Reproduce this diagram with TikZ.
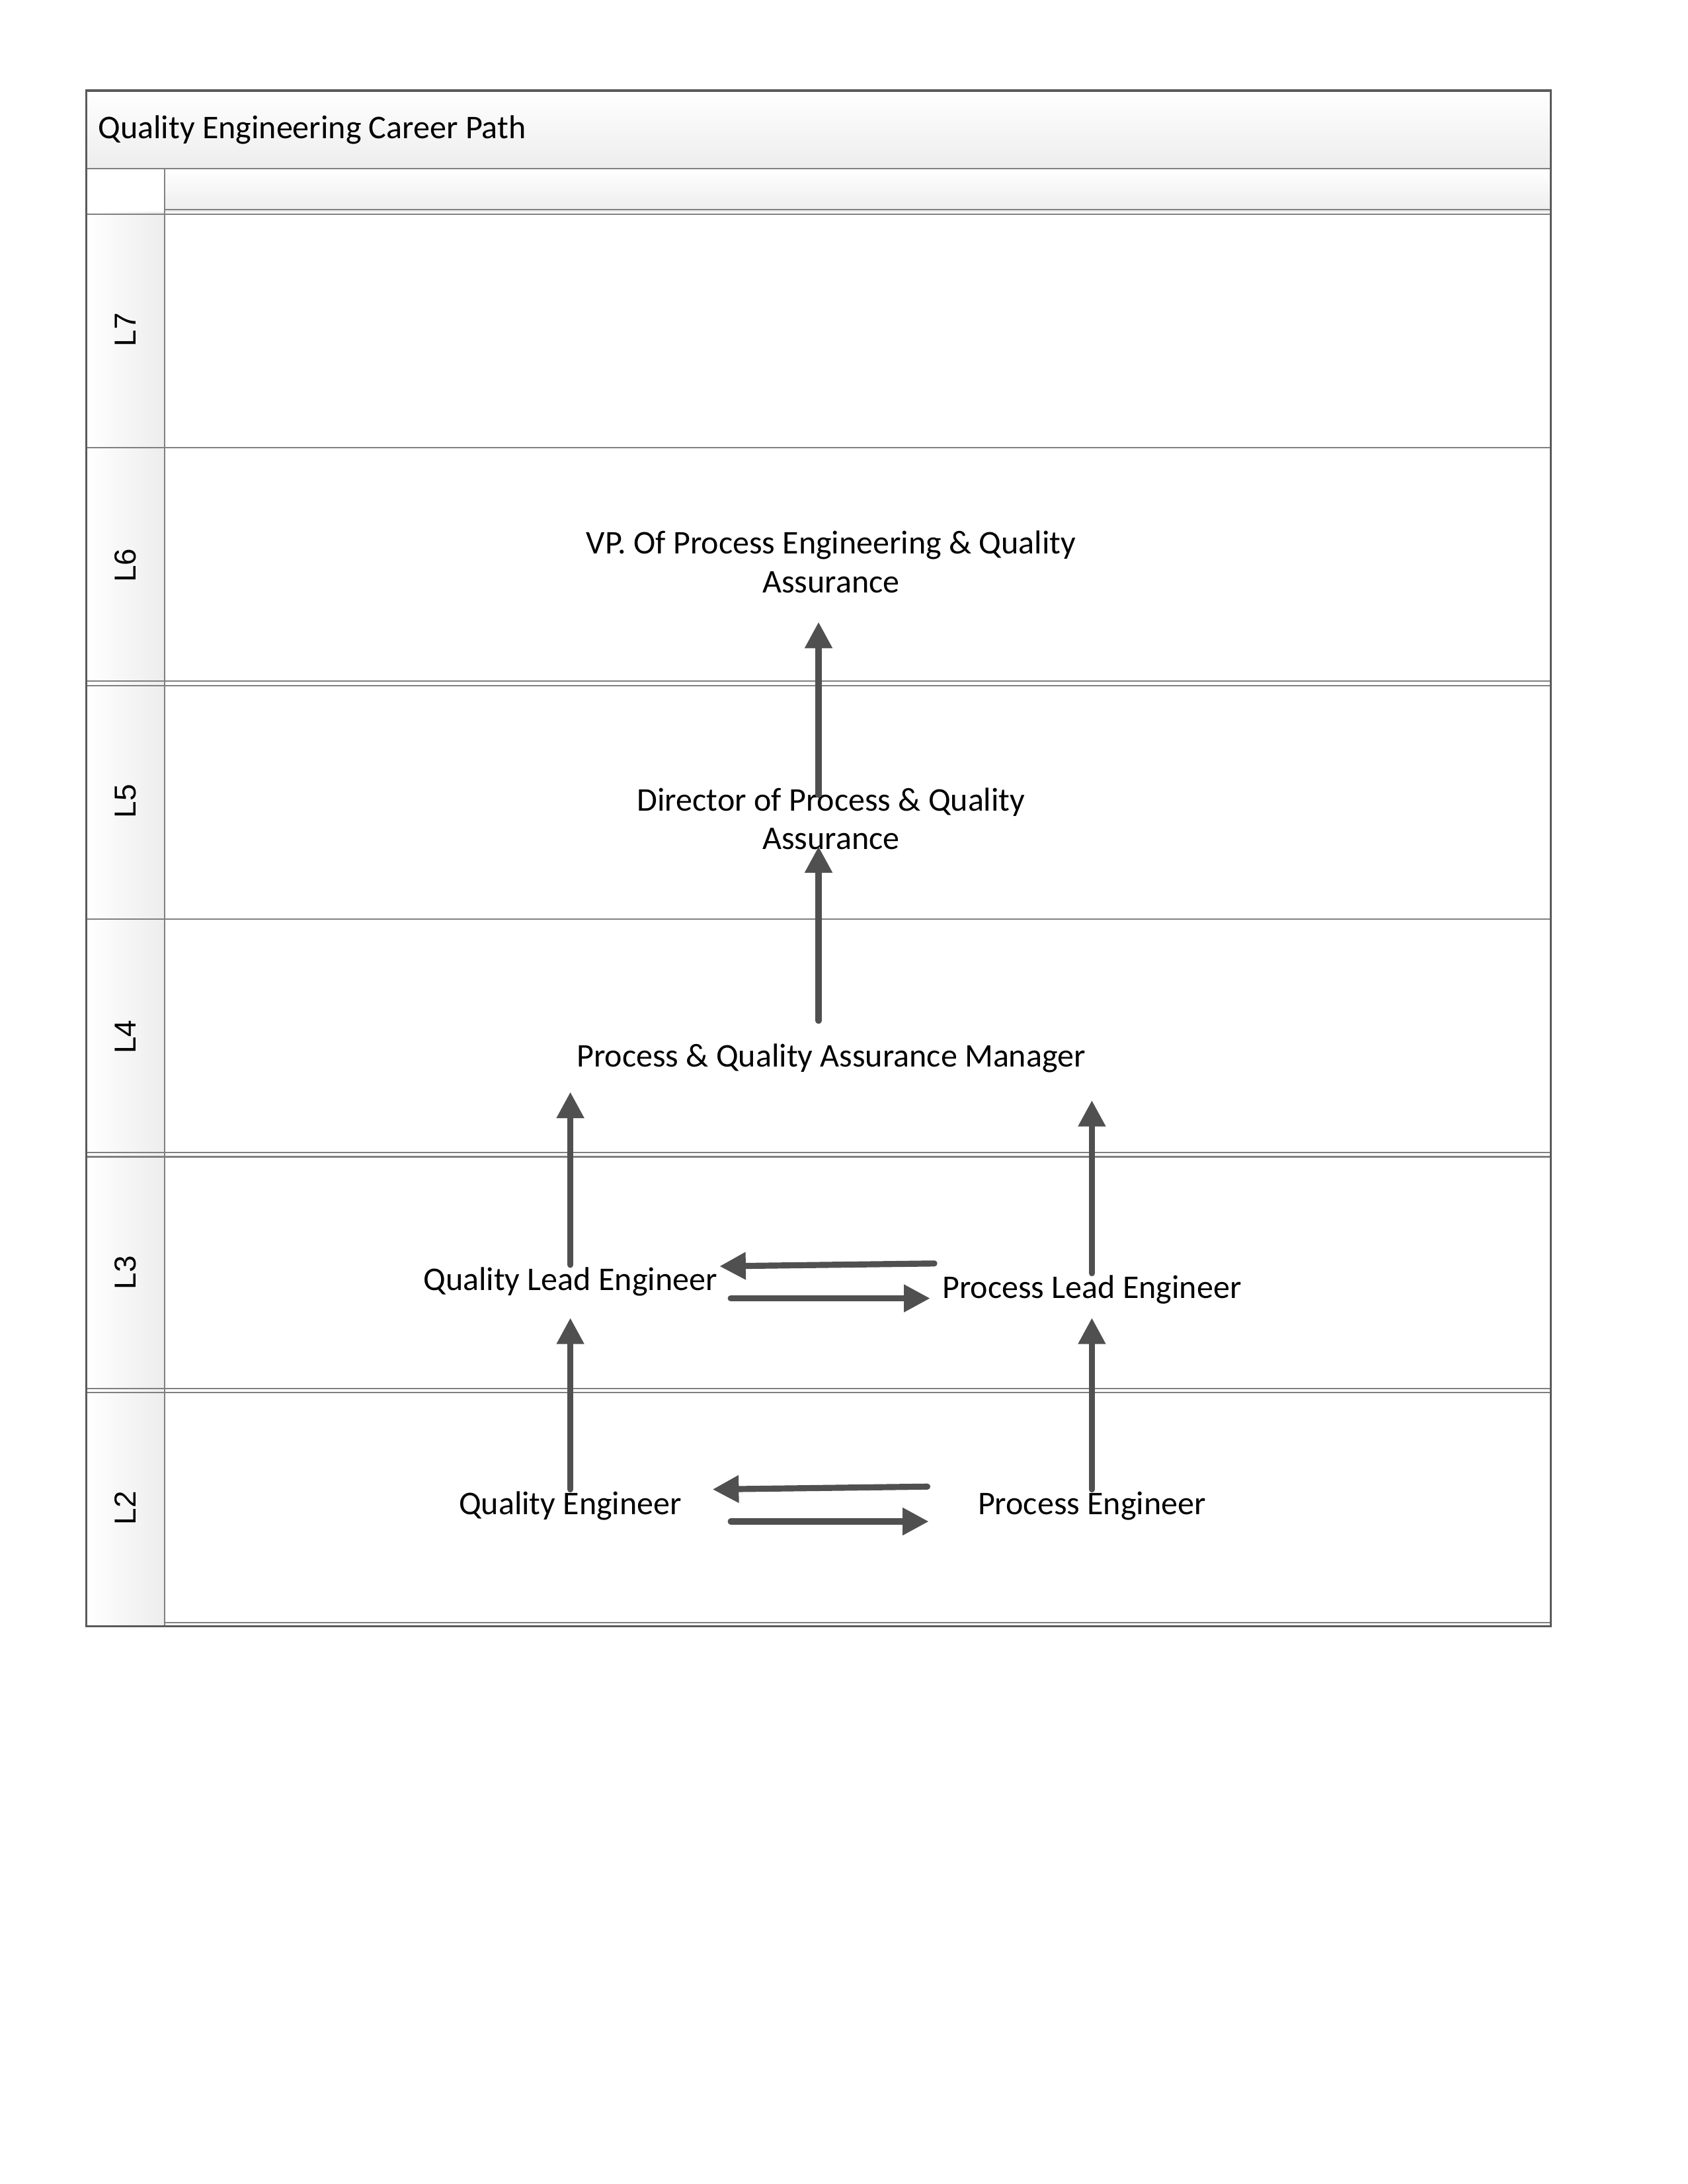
\documentclass[tikz,border=0pt]{standalone}
\usepackage{fontspec}
\setmainfont{Carlito}
\newfontfamily\lanefont{Liberation Sans}
\usepackage{tikz}
\usetikzlibrary{arrows.meta}
\definecolor{arrowgray}{HTML}{505050}
\definecolor{rulegray}{HTML}{808080}
\definecolor{framegray}{HTML}{5A5A5A}
\definecolor{headgray}{HTML}{EDEDED}
\tikzstyle{job}=[align=center,inner sep=0pt,font=\fontsize{12pt}{14pt}\selectfont]
\tikzstyle{lanelabel}=[rotate=90,inner sep=0pt,font=\lanefont\fontsize{11pt}{13pt}\selectfont]
\tikzstyle{rule}=[draw=rulegray,line width=0.5pt]
\tikzstyle{promo}=[draw=arrowgray,line width=2.2pt,line cap=round,-{Triangle[width=9.5pt,length=9.5pt]}]

\begin{document}
\begin{tikzpicture}[x=0.5057pt,y=-0.5057pt]
    \useasboundingbox (0,0) rectangle (1210.2,1566.1);
    % header and lane column
    \path[top color=white,bottom color=headgray] (62,65) rectangle (1112,121);
    \path[top color=white,bottom color=headgray] (118,121) rectangle (1112,152);
    \path[left color=white,right color=headgray] (62,152) rectangle (118,1166);
    \draw[rule] (62,121) -- (1112,121) (118,121) -- (118,1166);
    \draw[rule] (62,321) -- (1112,321) (62,659) -- (1112,659);
    \draw[rule] (118,150.5) -- (1112,150.5) (62,153.5) -- (1112,153.5);
    \draw[rule] (62,488.5) -- (1112,488.5) (62,491.5) -- (1112,491.5);
    \draw[rule] (62,826.5) -- (1112,826.5) (62,829.5) -- (1112,829.5);
    \draw[rule] (62,995.5) -- (1112,995.5) (62,998.5) -- (1112,998.5);
    \draw[rule] (118,1163.5) -- (1112,1163.5);
    \draw[framegray,line width=0.8pt] (62,65) rectangle (1112,1166);

    \node[job,anchor=west] (title) at (70,93) {Quality Engineering Career Path};

    \path (90,236.5) node[lanelabel] (l7) {L7}
        ++ (0,169) node[lanelabel] (l6) {L6}
        ++ (0,169) node[lanelabel] (l5) {L5}
        ++ (0,169) node[lanelabel] (l4) {L4}
        ++ (0,169) node[lanelabel] (l3) {L3}
        ++ (0,169) node[lanelabel] (l2) {L2};

    \node[job] (vp)  at (596,403) {VP. Of Process Engineering \& Quality\\Assurance};
    \node[job] (dir) at (596,587) {Director of Process \& Quality\\Assurance};
    \node[job] (mgr) at (596,759) {Process \& Quality Assurance Manager};
    \node[job] (qle) at (409,919) {Quality Lead Engineer};
    \node[job] (ple) at (783,925) {Process Lead Engineer};
    \node[job] (qe)  at (409,1080) {Quality Engineer};
    \node[job] (pe)  at (783,1080) {Process Engineer};

    \draw[promo] ([shift={(-9,-17)}]dir.center) -- ([shift={(-9,43)}]vp.center);
    \draw[promo] ([shift={(-9,-27)}]mgr.center) -- ([shift={(-9,20)}]dir.center);
    \draw[promo] ([shift={(0,-12)}]qle.center) -- ([shift={(-187,24)}]mgr.center);
    \draw[promo] ([shift={(0,-12)}]ple.center) -- ([shift={(187,30)}]mgr.center);
    \draw[promo] ([shift={(0,-12)}]qe.center) -- ([shift={(0,26)}]qle.center);
    \draw[promo] ([shift={(0,-12)}]pe.center) -- ([shift={(0,20)}]ple.center);
    \draw[promo] ([shift={(-113,-19)}]ple.center) -- ([shift={(107,-11)}]qle.center);
    \draw[promo] ([shift={(115,12)}]qle.center) -- ([shift={(-116,6)}]ple.center);
    \draw[promo] ([shift={(-118,-14)}]pe.center) -- ([shift={(102,-12)}]qe.center);
    \draw[promo] ([shift={(115,11)}]qe.center) -- ([shift={(-117,11)}]pe.center);
\end{tikzpicture}
\end{document}
